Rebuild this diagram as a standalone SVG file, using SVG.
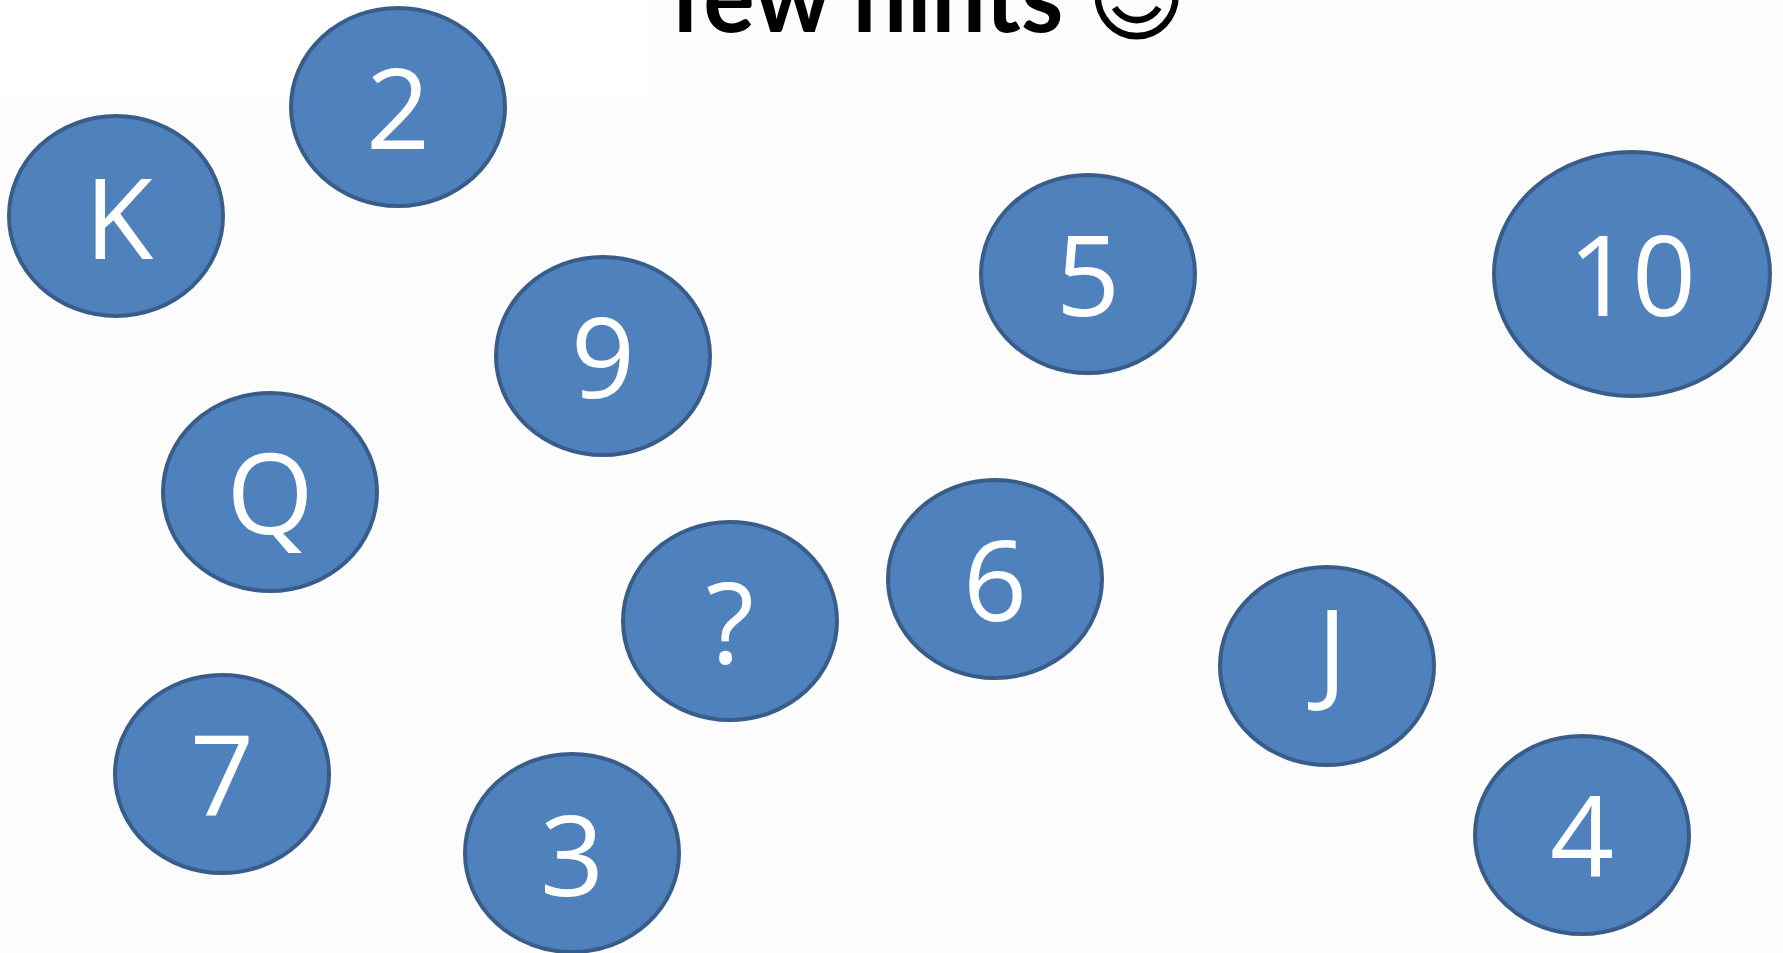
<svg xmlns="http://www.w3.org/2000/svg" width="1783" height="953" viewBox="0 0 1783 953">
<style>
.n ellipse{fill:#4f81bd;stroke:#385d8a;stroke-width:4}
.n text{fill:#ffffff;font-family:"Open Sans",Lato,"Liberation Sans",sans-serif;font-size:112px;text-anchor:middle}
.title{fill:#000000;font-family:Lato,"Open Sans","DejaVu Sans",sans-serif;font-weight:bold;font-size:100px}
</style>
<rect width="1783" height="953" fill="#fcfcfc"/>
<rect width="648" height="94" fill="#ffffff"/>
<text class="title" x="670" y="32" textLength="517" lengthAdjust="spacingAndGlyphs">few hints ☺</text>
<g id="connectors"></g>
<g id="node-2" class="n"><ellipse cx="398" cy="107" rx="107" ry="99"/><text x="398" y="149">2</text></g>
<g id="node-K" class="n"><ellipse cx="116" cy="216" rx="107" ry="100"/><text x="119" y="259">K</text></g>
<g id="node-9" class="n"><ellipse cx="603" cy="356" rx="107" ry="99"/><text x="603" y="398">9</text></g>
<g id="node-Q" class="n"><ellipse cx="270" cy="492" rx="107" ry="99"/><text x="270" y="534">Q</text></g>
<g id="node-q" class="n"><ellipse cx="730" cy="621" rx="107" ry="99"/><text x="730" y="663">?</text></g>
<g id="node-6" class="n"><ellipse cx="995" cy="579" rx="107" ry="99"/><text x="995" y="621">6</text></g>
<g id="node-5" class="n"><ellipse cx="1088" cy="274" rx="107" ry="99"/><text x="1088" y="316">5</text></g>
<g id="node-10" class="n"><ellipse cx="1632" cy="274" rx="138" ry="122"/><text x="1632" y="316">10</text></g>
<g id="node-J" class="n"><ellipse cx="1327" cy="666" rx="107" ry="99"/><text x="1332" y="690">J</text></g>
<g id="node-4" class="n"><ellipse cx="1582" cy="835" rx="107" ry="99"/><text x="1582" y="877">4</text></g>
<g id="node-7" class="n"><ellipse cx="222" cy="774" rx="107" ry="99"/><text x="222" y="816">7</text></g>
<g id="node-3" class="n"><ellipse cx="572" cy="853" rx="107" ry="99"/><text x="572" y="896">3</text></g>
</svg>
